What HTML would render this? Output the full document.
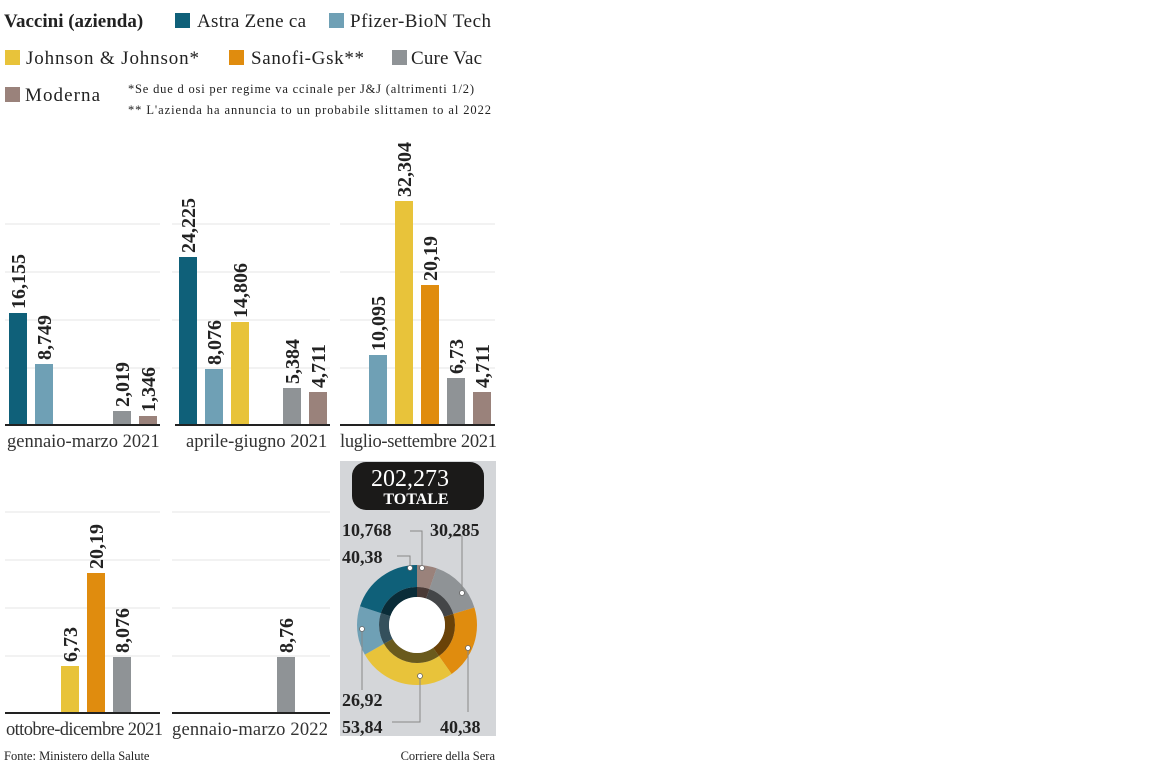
<!DOCTYPE html>
<html><head><meta charset="utf-8"><style>
body{margin:0;background:#fff;width:1151px;height:778px;overflow:hidden}
svg{display:block;font-family:"Liberation Serif",serif}
.v{font-weight:bold;font-size:20px;fill:#222}
.p{font-size:18.5px;fill:#333}
.g{stroke:#e6e6e6;stroke-width:1}
.d{font-weight:bold;font-size:18px;fill:#222}
.ld{stroke:#888;stroke-width:1;fill:none}
</style></head><body>
<svg width="1151" height="778" viewBox="0 0 1151 778">
<text x="4" y="27" font-size="19" font-weight="bold" fill="#222">Vaccini (azienda)</text>
<rect x="175" y="13" width="15" height="15" fill="#0f6079"/><text x="197" y="27" font-size="19" fill="#222" textLength="109">Astra Zene ca</text>
<rect x="329" y="13" width="15" height="15" fill="#6fa0b5"/><text x="350" y="27" font-size="19" fill="#222" textLength="141">Pfizer-BioN Tech</text>
<rect x="5" y="50" width="15" height="15" fill="#e8c33a"/><text x="26" y="64" font-size="19" fill="#222" textLength="173">Johnson &amp; Johnson*</text>
<rect x="229" y="50" width="15" height="15" fill="#e08c0e"/><text x="251" y="64" font-size="19" fill="#222" textLength="113">Sanofi-Gsk**</text>
<rect x="392" y="50" width="15" height="15" fill="#8f9396"/><text x="411" y="64" font-size="19" fill="#222" textLength="71">Cure Vac</text>
<rect x="5" y="87" width="15" height="15" fill="#9a827b"/><text x="25" y="101" font-size="19" fill="#222" textLength="75">Moderna</text>
<text x="128" y="93" font-size="12.5" fill="#222" textLength="346">*Se due d osi per regime va ccinale per J&amp;J (altrimenti 1/2)</text>
<text x="128" y="114" font-size="12.5" fill="#222" textLength="363">** L'azienda ha annuncia  to un probabile slittamen  to al 2022</text>

<g class="g">
<line x1="5" x2="160" y1="224" y2="224"/><line x1="5" x2="160" y1="272" y2="272"/><line x1="5" x2="160" y1="320" y2="320"/><line x1="5" x2="160" y1="368" y2="368"/>
<line x1="172" x2="330" y1="224" y2="224"/><line x1="172" x2="330" y1="272" y2="272"/><line x1="172" x2="330" y1="320" y2="320"/><line x1="172" x2="330" y1="368" y2="368"/>
<line x1="340" x2="495" y1="224" y2="224"/><line x1="340" x2="495" y1="272" y2="272"/><line x1="340" x2="495" y1="320" y2="320"/><line x1="340" x2="495" y1="368" y2="368"/>
<line x1="5" x2="160" y1="512" y2="512"/><line x1="5" x2="160" y1="560" y2="560"/><line x1="5" x2="160" y1="608" y2="608"/><line x1="5" x2="160" y1="656" y2="656"/>
<line x1="172" x2="330" y1="512" y2="512"/><line x1="172" x2="330" y1="560" y2="560"/><line x1="172" x2="330" y1="608" y2="608"/><line x1="172" x2="330" y1="656" y2="656"/>
</g>

<rect x="9" y="313" width="18" height="112" fill="#0f6079"/>
<rect x="35" y="364" width="18" height="61" fill="#6fa0b5"/>
<rect x="113" y="411" width="18" height="14" fill="#8f9396"/>
<rect x="139" y="416" width="18" height="9" fill="#9a827b"/>
<text class="v" transform="translate(25,309) rotate(-90)">16,155</text>
<text class="v" transform="translate(51,360) rotate(-90)">8,749</text>
<text class="v" transform="translate(129,407) rotate(-90)">2,019</text>
<text class="v" transform="translate(155,412) rotate(-90)">1,346</text>
<line x1="5" x2="160" y1="425" y2="425" stroke="#222" stroke-width="2"/>
<text class="p" x="7" y="447">gennaio-marzo 2021</text>

<rect x="179" y="257" width="18" height="168" fill="#0f6079"/>
<rect x="205" y="369" width="18" height="56" fill="#6fa0b5"/>
<rect x="231" y="322" width="18" height="103" fill="#e8c33a"/>
<rect x="283" y="388" width="18" height="37" fill="#8f9396"/>
<rect x="309" y="392" width="18" height="33" fill="#9a827b"/>
<text class="v" transform="translate(195,253) rotate(-90)">24,225</text>
<text class="v" transform="translate(221,365) rotate(-90)">8,076</text>
<text class="v" transform="translate(247,318) rotate(-90)">14,806</text>
<text class="v" transform="translate(299,384) rotate(-90)">5,384</text>
<text class="v" transform="translate(325,388) rotate(-90)">4,711</text>
<line x1="175" x2="330" y1="425" y2="425" stroke="#222" stroke-width="2"/>
<text class="p" x="186" y="447">aprile-giugno 2021</text>

<rect x="369" y="355" width="18" height="70" fill="#6fa0b5"/>
<rect x="395" y="201" width="18" height="224" fill="#e8c33a"/>
<rect x="421" y="285" width="18" height="140" fill="#e08c0e"/>
<rect x="447" y="378" width="18" height="47" fill="#8f9396"/>
<rect x="473" y="392" width="18" height="33" fill="#9a827b"/>
<text class="v" transform="translate(385,351) rotate(-90)">10,095</text>
<text class="v" transform="translate(411,197) rotate(-90)">32,304</text>
<text class="v" transform="translate(437,281) rotate(-90)">20,19</text>
<text class="v" transform="translate(463,374) rotate(-90)">6,73</text>
<text class="v" transform="translate(489,388) rotate(-90)">4,711</text>
<line x1="340" x2="495" y1="425" y2="425" stroke="#222" stroke-width="2"/>
<text class="p" x="340" y="447" textLength="157">luglio-settembre 2021</text>

<rect x="61" y="666" width="18" height="47" fill="#e8c33a"/>
<rect x="87" y="573" width="18" height="140" fill="#e08c0e"/>
<rect x="113" y="657" width="18" height="56" fill="#8f9396"/>
<text class="v" transform="translate(77,662) rotate(-90)">6,73</text>
<text class="v" transform="translate(103,569) rotate(-90)">20,19</text>
<text class="v" transform="translate(129,653) rotate(-90)">8,076</text>
<line x1="5" x2="160" y1="713" y2="713" stroke="#222" stroke-width="2"/>
<text class="p" x="6" y="735" textLength="157">ottobre-dicembre 2021</text>

<rect x="277" y="657" width="18" height="56" fill="#8f9396"/>
<text class="v" transform="translate(293,653) rotate(-90)">8,76</text>
<line x1="172" x2="330" y1="713" y2="713" stroke="#222" stroke-width="2"/>
<text class="p" x="172" y="735" textLength="156">gennaio-marzo 2022</text>

<rect x="340" y="461" width="156" height="275" fill="#d4d6d9"/>
<rect x="352" y="462" width="132" height="48" rx="14" fill="#1b1a19"/>
<text x="410" y="486" font-size="24" fill="#fff" text-anchor="middle">202,273</text>
<text x="416" y="504" font-size="16" font-weight="bold" fill="#fff" text-anchor="middle">TOTALE</text>

<g transform="translate(417,625) rotate(-90)">
<g fill="none" stroke-width="22">
<circle r="49" pathLength="202.573" stroke="#9a827b" stroke-dasharray="10.768 300" stroke-dashoffset="0"/>
<circle r="49" pathLength="202.573" stroke="#8f9396" stroke-dasharray="30.285 300" stroke-dashoffset="-10.768"/>
<circle r="49" pathLength="202.573" stroke="#e08c0e" stroke-dasharray="40.38 300" stroke-dashoffset="-41.053"/>
<circle r="49" pathLength="202.573" stroke="#e8c33a" stroke-dasharray="53.84 300" stroke-dashoffset="-81.433"/>
<circle r="49" pathLength="202.573" stroke="#6fa0b5" stroke-dasharray="26.92 300" stroke-dashoffset="-135.273"/>
<circle r="49" pathLength="202.573" stroke="#0f6079" stroke-dasharray="40.38 300" stroke-dashoffset="-162.193"/>
</g>
<g fill="none" stroke-width="10">
<circle r="33" pathLength="202.573" stroke="#4a3a36" stroke-dasharray="10.768 300" stroke-dashoffset="0"/>
<circle r="33" pathLength="202.573" stroke="#444648" stroke-dasharray="30.285 300" stroke-dashoffset="-10.768"/>
<circle r="33" pathLength="202.573" stroke="#6a4208" stroke-dasharray="40.38 300" stroke-dashoffset="-41.053"/>
<circle r="33" pathLength="202.573" stroke="#6a5a1c" stroke-dasharray="53.84 300" stroke-dashoffset="-81.433"/>
<circle r="33" pathLength="202.573" stroke="#34505c" stroke-dasharray="26.92 300" stroke-dashoffset="-135.273"/>
<circle r="33" pathLength="202.573" stroke="#0a2c38" stroke-dasharray="40.38 300" stroke-dashoffset="-162.193"/>
</g>
<circle r="28" fill="#fff"/>
</g>

<path class="ld" d="M410,568 V556 H397"/>
<path class="ld" d="M422,568 V531 H410"/>
<path class="ld" d="M462,593 V536 H452"/>
<path class="ld" d="M362,630 V690"/>
<path class="ld" d="M420,676 V722 H392"/>
<path class="ld" d="M468,648 V712"/>
<g fill="#fff" stroke="#666" stroke-width="0.8">
<circle cx="410" cy="568" r="2.5"/><circle cx="422" cy="568" r="2.5"/><circle cx="462" cy="593" r="2.5"/>
<circle cx="362" cy="629" r="2.5"/><circle cx="420" cy="676" r="2.5"/><circle cx="468" cy="648" r="2.5"/>
</g>
<text class="d" x="342" y="536">10,768</text>
<text class="d" x="430" y="536">30,285</text>
<text class="d" x="342" y="563">40,38</text>
<text class="d" x="342" y="706">26,92</text>
<text class="d" x="342" y="733">53,84</text>
<text class="d" x="440" y="733">40,38</text>

<text x="4" y="760" font-size="12.5" fill="#222">Fonte: Ministero della Salute</text>
<text x="495" y="760" font-size="12.5" fill="#222" text-anchor="end">Corriere della Sera</text>
</svg>
</body></html>
